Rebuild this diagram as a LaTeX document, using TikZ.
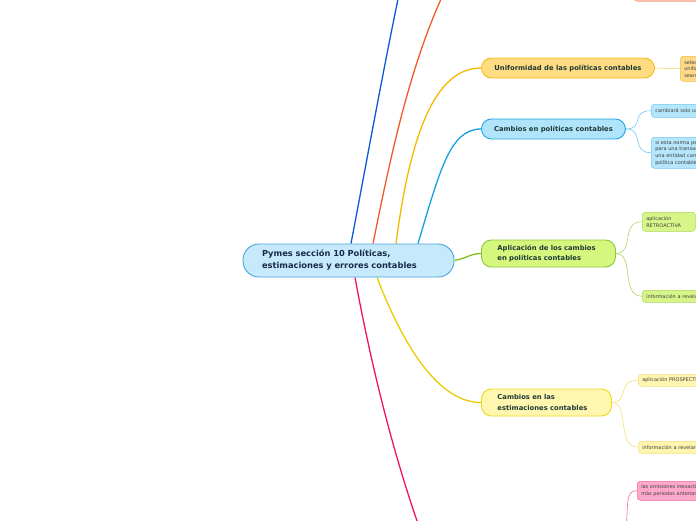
\documentclass[tikz,border=0pt]{standalone}
\usepackage{fontspec}
\setmainfont{DejaVu Sans}
\usetikzlibrary{backgrounds}
\definecolor{txtdark}{HTML}{1A2A4A}
\definecolor{txtgreen}{HTML}{1F3A36}
\definecolor{cfill}{HTML}{C6EAFB}\definecolor{cdraw}{HTML}{4DA3DB}
\definecolor{ufill}{HTML}{FFDB82}\definecolor{udraw}{HTML}{F5B917}
\definecolor{bfill}{HTML}{B0E4FA}\definecolor{bdraw}{HTML}{1EA5E3}
\definecolor{gfill}{HTML}{D6F77E}\definecolor{gdraw}{HTML}{8CC63E}
\definecolor{yfill}{HTML}{FFF7B0}\definecolor{ydraw}{HTML}{EED81C}
\definecolor{pfill}{HTML}{FFA8CB}\definecolor{pdraw}{HTML}{F2669A}
\definecolor{ofill}{HTML}{FFD98A}\definecolor{odraw}{HTML}{F5C040}
\definecolor{sfill}{HTML}{FFC0AA}\definecolor{sdraw}{HTML}{F7A184}
\definecolor{lblue}{HTML}{0A5AD6}
\definecolor{lorange}{HTML}{F05A28}
\definecolor{luni}{HTML}{F5B800}
\definecolor{lcyan}{HTML}{14A0E0}
\definecolor{lgreen}{HTML}{7CBF1E}
\definecolor{lyellow}{HTML}{E8CC00}
\definecolor{lpink}{HTML}{F0145F}
\definecolor{sbfill}{HTML}{B5E6FB}\definecolor{sbdraw}{HTML}{6FC8F0}
\definecolor{sgfill}{HTML}{D8F58A}\definecolor{sgdraw}{HTML}{A9D85A}
\definecolor{syfill}{HTML}{FFF4B0}\definecolor{sydraw}{HTML}{F2DE7A}
\tikzset{
  mainbox/.style={draw, line width=0.9pt, rounded corners=10pt, font=\bfseries\fontsize{6.8}{10.5}\selectfont, text=txtgreen, inner ysep=0pt, align=left, anchor=west},
  subbox/.style={draw, line width=0.5pt, rounded corners=3pt, font=\fontsize{5}{6.6}\selectfont, text=black!75, inner xsep=4pt, inner ysep=0pt, align=left, anchor=north west},
  branch/.style={line width=1.3pt},
  twig/.style={line width=0.6pt}
}
\begin{document}
\begin{tikzpicture}[x=1pt,y=-1pt]
\useasboundingbox (0,0) rectangle (696,520);
\clip (0,0) rectangle (696,520);
% central
\node[draw=cdraw, fill=cfill, line width=0.9pt, rounded corners=16pt, minimum width=211pt, minimum height=33pt, text width=173pt, inner xsep=19pt, align=left, font=\bfseries\fontsize{8.3}{12}\selectfont, text=txtdark] (c) at (348.5,260.5) {Pymes sección 10 Políticas,\\estimaciones y errores contables};
% main topics
\node[mainbox, fill=ufill, draw=udraw, minimum width=173pt, minimum height=20pt, align=center] (u) at (481,68) {Uniformidad de las políticas contables};
\node[mainbox, fill=bfill, draw=bdraw, minimum width=144pt, minimum height=20pt, align=center] (b) at (481,129) {Cambios en políticas contables};
\node[mainbox, fill=gfill, draw=gdraw, minimum width=134pt, minimum height=27pt, text width=102pt, inner xsep=16pt] (g) at (481,253.5) {Aplicación de los cambios\\en políticas contables};
\node[mainbox, fill=yfill, draw=ydraw, minimum width=130pt, minimum height=27pt, text width=98pt, inner xsep=16pt] (y) at (481,402.5) {Cambios en las\\estimaciones contables};
% sub boxes
\node[subbox, fill=sfill, draw=sdraw, text width=72pt, minimum height=12pt] (s0) at (634,-11) {};
\node[subbox, fill=ofill, draw=odraw, text width=52pt, minimum height=25pt] (u1) at (680,56) {seleccionará y\\uniformemente\\sean similares};
\node[subbox, fill=sbfill, draw=sbdraw, text width=80pt, minimum height=13pt] (b1) at (651,104) {cambiará solo una política};
\node[subbox, fill=sbfill, draw=sbdraw, text width=62pt, minimum height=31pt] (b2) at (651,137) {si esta norma permite\\para una transacción\\una entidad cambia\\política contable};
\node[subbox, fill=sgfill, draw=sgdraw, text width=45pt, minimum height=19pt] (g1) at (642,212) {aplicación\\RETROACTIVA};
\node[subbox, fill=sgfill, draw=sgdraw, text width=62pt, minimum height=12pt] (g2) at (642,290) {información a revelar};
\node[subbox, fill=syfill, draw=sydraw, text width=72pt, minimum height=12pt] (y1) at (638,374) {aplicación PROSPECTIVA};
\node[subbox, fill=syfill, draw=sydraw, text width=62pt, minimum height=12pt] (y2) at (638,441) {información a revelar};
\node[subbox, fill=pfill, draw=pdraw, text width=80pt, minimum height=19pt] (p1) at (637,481) {las omisiones inexactitudes\\más periodos anteriores};
% off-canvas ends
\coordinate (topblue) at (402,-20);
\coordinate (toporange) at (450,-20);
\coordinate (botpink) at (422,535);
\coordinate (botpink2) at (626,535);
\begin{scope}[on background layer]
\draw[branch, lblue] ([xshift=2.5pt]c.north) .. controls (365,170) and (385,60) .. (topblue);
\draw[branch, lorange] ([xshift=24.5pt]c.north) .. controls (390,160) and (410,60) .. (toporange);
\draw[branch, luni] ([xshift=47.5pt]c.north) .. controls (412,120) and (440,68) .. (u.west);
\draw[branch, lcyan] ([xshift=69.5pt]c.north) .. controls (440,170) and (450,129) .. (b.west);
\draw[branch, lgreen] (c.east) .. controls (468,258) and (470,253.5) .. (g.west);
\draw[branch, lyellow] ([xshift=28.5pt]c.south) .. controls (405,350) and (440,402.5) .. (y.west);
\draw[branch, lpink] ([xshift=6.5pt]c.south) .. controls (372,370) and (395,460) .. (botpink);
% twigs
\draw[twig, ufill!80!udraw] (u.east) -- (u1.west);
\draw[twig, sbdraw] (b.east) .. controls (645,129) and (630,110.5) .. (b1.west);
\draw[twig, sbdraw] (b.east) .. controls (645,129) and (630,152.5) .. (b2.west);
\draw[twig, sgdraw] (g.east) .. controls (635,253.5) and (620,221.5) .. (g1.west);
\draw[twig, sgdraw] (g.east) .. controls (635,253.5) and (620,296) .. (g2.west);
\draw[twig, sydraw] (y.east) .. controls (630,402.5) and (616,380) .. (y1.west);
\draw[twig, sydraw] (y.east) .. controls (630,402.5) and (616,447) .. (y2.west);
\draw[twig, pdraw] (botpink2) .. controls (628,500) and (626,490.5) .. (p1.west);
\end{scope}
\end{tikzpicture}
\end{document}
